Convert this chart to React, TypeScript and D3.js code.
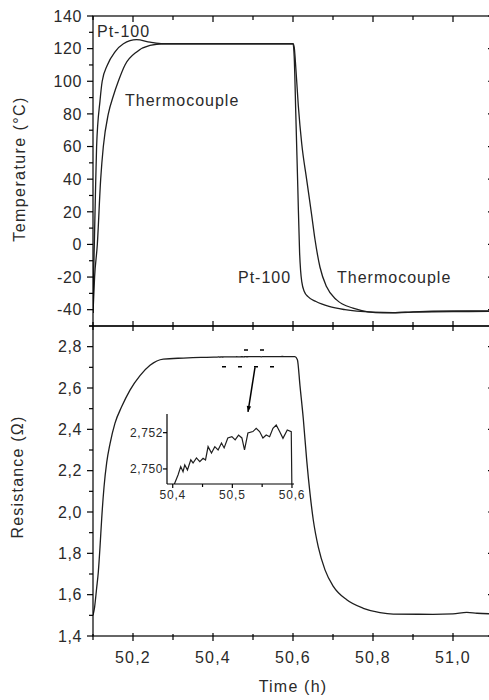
import React from "react";
import * as d3 from "d3";

// ---------- data ----------
const ptTime = [50.100,50.1015,50.1033,50.106,50.109,50.1175,50.123,50.136,50.155,50.176,50.209,50.2425,50.275,50.35,50.45,50.55,50.600,50.603,50.607,50.612,50.6165,50.619,50.622,50.6285,50.6375,50.6575,50.69,50.73,50.80,50.85,50.90,51.00,51.10];
const ptTemp = [-42,-20,0,30,60,88,100,110,118,123,125.5,124,123,123,123,123,123,115,80,35,-5,-16,-23,-29,-32,-35,-38,-40,-41.5,-41.8,-41.3,-40.8,-40.7];

const tcTime = [50.100,50.104,50.1108,50.1192,50.1258,50.1383,50.1508,50.1633,50.18,50.2092,50.2425,50.2758,50.35,50.45,50.55,50.600,50.603,50.606,50.6133,50.6217,50.634,50.6467,50.655,50.6675,50.684,50.709,50.75,50.825,50.90,51.00,51.10];
const tcTemp = [-42,-20,0,40,60,80,91,100,110,118,122,123,123,123,123,123,121,112,85,62,40,18,3,-14,-26,-34,-39,-42,-41.5,-41.2,-41];

const riseTime = [50.100,50.104,50.109,50.1133,50.1175,50.1218,50.1275,50.1343,50.1425,50.155,50.1718,50.1925,50.2175,50.2425,50.2758,50.3258,50.37];
const riseRes = [1.50,1.54,1.63,1.71,1.83,1.97,2.12,2.24,2.33,2.43,2.51,2.59,2.66,2.71,2.74,2.745,2.748];

const insetTime = [50.4022,50.4089,50.4134,50.4173,50.4202,50.4247,50.4303,50.4341,50.4398,50.4454,50.4509,50.4550,50.4593,50.4650,50.4706,50.4761,50.4818,50.4862,50.4924,50.4992,50.5047,50.5104,50.5160,50.5204,50.5261,50.5345,50.5400,50.5457,50.5513,50.5568,50.5625,50.5681,50.5736,50.5793,50.5849,50.5921,50.5988];
const insetRes = [2.74912,2.74967,2.75013,2.74985,2.75022,2.74994,2.75050,2.75033,2.75061,2.75040,2.75059,2.75050,2.75123,2.75088,2.75123,2.75105,2.75143,2.75116,2.75171,2.75178,2.75160,2.75187,2.75171,2.75105,2.75198,2.75206,2.75224,2.75206,2.75171,2.75187,2.75178,2.75224,2.75242,2.75206,2.75169,2.75215,2.75206];
const insetEndTime = [50.600];
const insetEndRes = [2.7485];

const fallTime = [50.605,50.611,50.6175,50.6258,50.6343,50.6425,50.6508,50.6633,50.68,50.7008,50.7343,50.7758,50.8175,50.8508,50.95,51.0,51.0343,51.06,51.1];
const fallRes = [2.752,2.737,2.61,2.45,2.25,2.09,1.96,1.83,1.72,1.64,1.575,1.534,1.513,1.506,1.505,1.507,1.514,1.51,1.507];

const tempTicks = [-40,-20,0,20,40,60,80,100,120,140];
const tempMinor = [-50,-30,-10,10,30,50,70,90,110,130];
const resTicks = [1.4,1.6,1.8,2.0,2.2,2.4,2.6,2.8];
const resMinor = [1.5,1.7,1.9,2.1,2.3,2.5,2.7,2.9];
const timeTicks = [50.2,50.4,50.6,50.8,51.0];
const timeMinor = [50.1,50.3,50.5,50.7,50.9];
const insetXTicks = [50.4,50.5,50.6];
const insetXMinor = [50.45,50.55];
const insetYTicks = [2.750,2.752];

// annotation (data coords of bottom panel)
const arrowTime = [50.505,50.4875];
const arrowRes = [2.70,2.484];
const boxTopTime = [50.4775,50.5425];
const boxBottomTime = [50.4225,50.5825];
const boxRes = [2.784,2.703];

const W = 489, H = 700;
const FONT = "'Liberation Sans', Arial, Helvetica, sans-serif";
const TXT = "#2a2a2a";
const LINE = "#1e1e1e";

const comma = (v: number, d: number) => v.toFixed(d).replace(".", ",");

export default function App() {
  const x = d3.scaleLinear().domain([50.1, 51.1]).range([93, 493]);
  const yT = d3.scaleLinear().domain([-50, 140]).range([326, 16]);
  const yR = d3.scaleLinear().domain([1.4, 2.9]).range([636, 326]);
  const xi = d3.scaleLinear().domain([50.3904, 50.6034]).range([167, 294]);
  const yi = d3.scaleLinear().domain([2.74917, 2.75303]).range([484, 414]);

  const [L, R] = x.range();
  const T1 = yT.range()[1], M = yT.range()[0], B = yR.range()[0];

  const zip = (a: number[], b: number[]) => a.map((v, i) => [v, b[i]] as [number, number]);

  const ptPath = d3.line<[number, number]>().curve(d3.curveMonotoneX).x(d => x(d[0])).y(d => yT(d[1]))(zip(ptTime, ptTemp));
  const tcPath = d3.line<[number, number]>().curve(d3.curveMonotoneX).x(d => x(d[0])).y(d => yT(d[1]))(zip(tcTime, tcTemp));
  const resAll = zip(riseTime.concat(insetTime, fallTime), riseRes.concat(insetRes, fallRes));
  const resPath = d3.line<[number, number]>().curve(d3.curveMonotoneX).x(d => x(d[0])).y(d => yR(d[1]))(resAll);
  const insetPath = d3.line<[number, number]>().x(d => xi(d[0])).y(d => yi(d[1]))(
    zip(insetTime.concat(insetEndTime), insetRes.concat(insetEndRes))
  );

  const ax = { stroke: "#000", strokeWidth: 1.2 };
  const tickLines: React.ReactNode[] = [];
  let k = 0;
  const tl = (x1: number, y1: number, x2: number, y2: number) =>
    tickLines.push(<line key={k++} x1={x1} y1={y1} x2={x2} y2={y2} {...ax} />);

  tempTicks.forEach(v => { tl(L - 6, yT(v), L, yT(v)); tl(R - 5, yT(v), R, yT(v)); });
  tempMinor.forEach(v => { tl(L - 4, yT(v), L, yT(v)); tl(R - 4, yT(v), R, yT(v)); });
  resTicks.forEach(v => { tl(L - 6, yR(v), L, yR(v)); tl(R - 5, yR(v), R, yR(v)); });
  resMinor.forEach(v => { tl(L - 4, yR(v), L, yR(v)); tl(R - 4, yR(v), R, yR(v)); });
  timeTicks.forEach(v => { tl(x(v), T1, x(v), T1 + 6); tl(x(v), M - 5, x(v), M + 5); tl(x(v), B - 3, x(v), B + 5); });
  timeMinor.forEach(v => { tl(x(v), T1, x(v), T1 + 4); tl(x(v), M - 4, x(v), M + 4); tl(x(v), B - 2, x(v), B + 4); });
  const [iL, iR] = xi.range();
  const iB = yi.range()[0], iT = yi.range()[1];
  insetXTicks.forEach(v => tl(xi(v), iB, xi(v), iB + 4));
  insetXMinor.forEach(v => tl(xi(v), iB, xi(v), iB + 3));
  insetYTicks.forEach(v => tl(iL - 4, yi(v), iL, yi(v)));

  const textBase = { fontFamily: FONT, fill: TXT } as const;

  const arrowHead = (() => {
    const x1 = x(arrowTime[0]), y1 = yR(arrowRes[0]), x2 = x(arrowTime[1]), y2 = yR(arrowRes[1]);
    const a = Math.atan2(y2 - y1, x2 - x1), len = 6, w = 2.2;
    const bx = x2 - len * Math.cos(a), by = y2 - len * Math.sin(a);
    return `M${x2},${y2}L${bx + w * Math.sin(a)},${by - w * Math.cos(a)}L${bx - w * Math.sin(a)},${by + w * Math.cos(a)}Z`;
  })();

  return (
    <svg width={W} height={H} style={{ position: "absolute", left: 0, top: 0, background: "#fff" }}>
      <defs>
        <clipPath id="clipTop"><rect x={L} y={T1} width={R - L} height={M - T1} /></clipPath>
        <clipPath id="clipBot"><rect x={L} y={M} width={R - L} height={B - M} /></clipPath>
        <clipPath id="clipInset"><rect x={iL} y={iT - 5} width={iR - iL + 2} height={iB - iT + 5} /></clipPath>
      </defs>
      <rect x={0} y={0} width={W} height={H} fill="#fff" />

      <g clipPath="url(#clipTop)" fill="none" stroke={LINE} strokeWidth={1.3}>
        <path d={ptPath || ""} />
        <path d={tcPath || ""} />
      </g>
      <g clipPath="url(#clipBot)" fill="none" stroke={LINE} strokeWidth={1.3}>
        <path d={resPath || ""} />
      </g>

      <rect x={L} y={T1} width={R - L} height={M - T1} fill="none" {...ax} />
      <rect x={L} y={M} width={R - L} height={B - M} fill="none" {...ax} />
      {tickLines}

      {tempTicks.map(v => (
        <text key={"t" + v} x={82} y={yT(v)} dy="0.36em" textAnchor="end" fontSize={16} letterSpacing={0.6} {...textBase}>{v}</text>
      ))}
      {resTicks.map(v => (
        <text key={"r" + v} x={82} y={yR(v)} dy="0.36em" textAnchor="end" fontSize={16} letterSpacing={0.6} {...textBase}>{comma(v, 1)}</text>
      ))}
      {timeTicks.map(v => (
        <text key={"x" + v} x={x(v)} y={663} textAnchor="middle" fontSize={16} letterSpacing={1.2} {...textBase}>{comma(v, 1)}</text>
      ))}

      <text x={293} y={692} textAnchor="middle" fontSize={16} letterSpacing={1.2} {...textBase}>Time (h)</text>
      <text transform={`translate(25,169) rotate(-90)`} textAnchor="middle" fontSize={16} letterSpacing={1.4} {...textBase}>Temperature (°C)</text>
      <text transform={`translate(23,477) rotate(-90)`} textAnchor="middle" fontSize={16} letterSpacing={1.2} {...textBase}>Resistance (Ω)</text>

      <text x={97} y={37} fontSize={16} letterSpacing={1} {...textBase}>Pt-100</text>
      <text x={125} y={106} fontSize={16} letterSpacing={1} {...textBase}>Thermocouple</text>
      <text x={238} y={283} fontSize={16} letterSpacing={1} {...textBase}>Pt-100</text>
      <text x={337} y={283} fontSize={16} letterSpacing={1} {...textBase}>Thermocouple</text>

      <line x1={x(boxTopTime[0])} x2={x(boxTopTime[1])} y1={yR(boxRes[0])} y2={yR(boxRes[0])} stroke="#000" strokeWidth={1.5} strokeDasharray="4 12" />
      <line x1={x(boxBottomTime[0])} x2={x(boxBottomTime[1])} y1={yR(boxRes[1])} y2={yR(boxRes[1])} stroke="#000" strokeWidth={1.5} strokeDasharray="4 12" />
      <line x1={x(arrowTime[0])} y1={yR(arrowRes[0])} x2={x(arrowTime[1])} y2={yR(arrowRes[1])} stroke="#000" strokeWidth={1.5} />
      <path d={arrowHead} fill="#000" />

      <g clipPath="url(#clipInset)">
        <path d={insetPath || ""} fill="none" stroke={LINE} strokeWidth={1.2} />
      </g>
      <line x1={iL} y1={iT} x2={iL} y2={iB} {...ax} />
      <line x1={iL} y1={iB} x2={iR} y2={iB} {...ax} />
      {insetXTicks.map(v => (
        <text key={"ix" + v} x={xi(v)} y={499} textAnchor="middle" fontSize={12} letterSpacing={0.8} {...textBase}>{comma(v, 1)}</text>
      ))}
      {insetYTicks.map(v => (
        <text key={"iy" + v} x={163} y={yi(v)} dy="0.36em" textAnchor="end" fontSize={12} letterSpacing={0.6} {...textBase}>{comma(v, 3)}</text>
      ))}
    </svg>
  );
}
